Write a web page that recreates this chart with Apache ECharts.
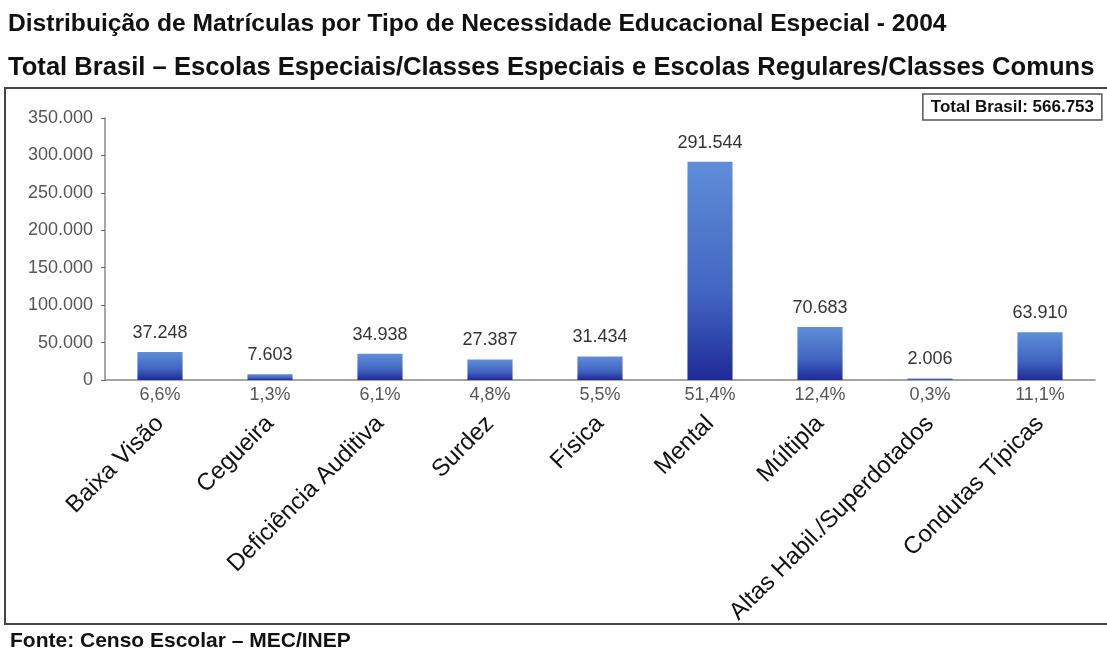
<!DOCTYPE html>
<html>
<head>
<meta charset="utf-8">
<script src="https://cdn.jsdelivr.net/npm/echarts@6/dist/echarts.min.js"></script>
<style>
  html, body { margin: 0; padding: 0; background: #fff; }
  #chart { width: 1107px; height: 652px; }
</style>
</head>
<body>
<div id="chart"></div>
<script>
// dados
const categorias = ['Baixa Visão', 'Cegueira', 'Deficiência Auditiva', 'Surdez', 'Física', 'Mental', 'Múltipla', 'Altas Habil./Superdotados', 'Condutas Típicas']
const matriculas = [37248, 7603, 34938, 27387, 31434, 291544, 70683, 2006, 63910]
const percentuais = ['6,6%', '1,3%', '6,1%', '4,8%', '5,5%', '51,4%', '12,4%', '0,3%', '11,1%']
const totalBrasil = '566.753'

const fmt = (v) => String(v).replace(/\B(?=(\d{3})+(?!\d))/g, '.')

const chart = echarts.init(document.getElementById('chart'))

const options = {
  animation: false,
  textStyle: { fontFamily: 'Liberation Sans, Arial, sans-serif' },
  title: [
    {
      text: 'Distribuição de Matrículas por Tipo de Necessidade Educacional Especial - 2004',
      left: 3,
      top: 7,
      textStyle: { fontSize: 24.6, fontWeight: 'bold', color: '#111' }
    },
    {
      text: 'Total Brasil – Escolas Especiais/Classes Especiais e Escolas Regulares/Classes Comuns',
      left: 3,
      top: 50,
      textStyle: { fontSize: 25.6, fontWeight: 'bold', color: '#111' }
    },
    {
      text: 'Fonte: Censo Escolar – MEC/INEP',
      left: 5,
      top: 626,
      textStyle: { fontSize: 21, fontWeight: 'bold', color: '#111' }
    },
    {
      text: 'Total Brasil: ' + totalBrasil,
      right: 5,
      top: 94,
      padding: [5, 8, 4, 8],
      borderColor: '#555',
      borderWidth: 1.5,
      textStyle: { fontSize: 17, fontWeight: 'bold', color: '#111' }
    }
  ],
  graphic: [
    {
      type: 'rect',
      shape: { x: 5, y: 88, width: 1110, height: 536 },
      style: { fill: 'none', stroke: '#444', lineWidth: 2 },
      z: -1
    }
  ],
  grid: {
    left: 105,
    right: 12,
    top: 118,
    bottom: 272
  },
  xAxis: [
    {
      type: 'category',
      data: categorias,
      axisLine: { show: true, lineStyle: { color: '#888', width: 1.5 } },
      axisTick: { show: false },
      axisLabel: {
        interval: 0,
        rotate: 45,
        margin: 40,
        fontSize: 24,
        color: '#111'
      }
    },
    {
      type: 'category',
      data: percentuais,
      position: 'bottom',
      axisLine: { show: false },
      axisTick: { show: false },
      axisLabel: {
        interval: 0,
        margin: 6,
        fontSize: 18,
        color: '#555'
      }
    }
  ],
  yAxis: {
    type: 'value',
    min: 0,
    max: 350000,
    interval: 50000,
    splitLine: { show: false },
    axisLine: { show: true, lineStyle: { color: '#888', width: 1.5 } },
    axisTick: { show: true, length: 4, lineStyle: { color: '#666' } },
    axisLabel: {
      fontSize: 18,
      color: '#555',
      margin: 12,
      formatter: (v) => fmt(v)
    }
  },
  series: [
    {
      type: 'bar',
      xAxisIndex: 0,
      data: matriculas,
      barWidth: '41%',
      itemStyle: {
        color: new echarts.graphic.LinearGradient(0, 0, 0, 1, [
          { offset: 0, color: '#5f8ed8' },
          { offset: 0.6, color: '#4265c2' },
          { offset: 1, color: '#1f2a98' }
        ])
      },
      label: {
        show: true,
        position: 'top',
        distance: 10,
        fontSize: 18,
        color: '#333',
        formatter: (p) => fmt(p.value)
      }
    }
  ]
}

chart.setOption(options)
</script>
</body>
</html>
